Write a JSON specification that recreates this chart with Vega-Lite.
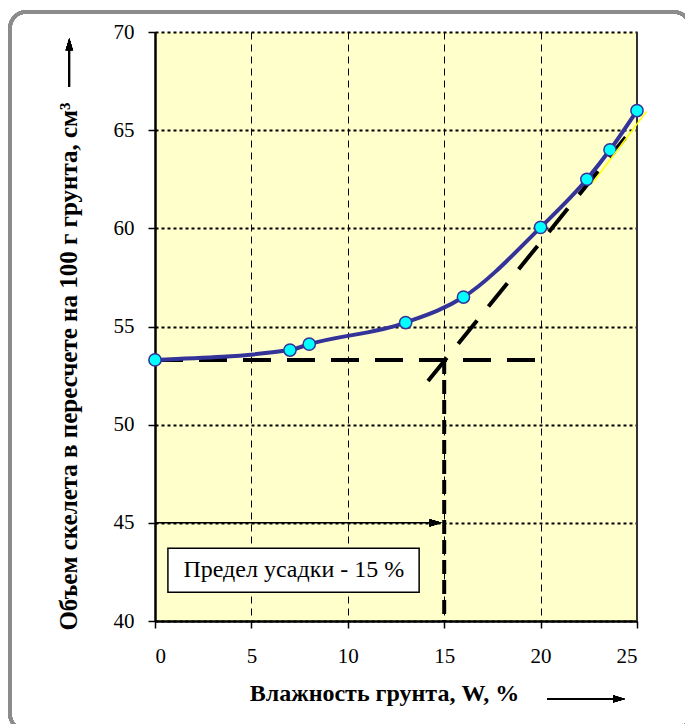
{
  "$schema": "https://vega.github.io/schema/vega-lite/v6.json",
  "width": 482,
  "height": 589,
  "autosize": {"type": "none"},
  "padding": {"left": 155, "top": 32, "right": 48, "bottom": 103},
  "background": "white",
  "config": {
    "view": {"fill": "#FFFFCC", "stroke": null},
    "font": "Liberation Serif"
  },
  "datasets": {
    "curve": [
      {"W": 0, "V": 53.3},
      {"W": 7, "V": 53.8},
      {"W": 8, "V": 54.1},
      {"W": 13, "V": 55.2},
      {"W": 16, "V": 56.5},
      {"W": 20, "V": 60.05},
      {"W": 22.4, "V": 62.5},
      {"W": 23.6, "V": 64.0},
      {"W": 25, "V": 66.0}
    ],
    "horiz": [{"W": 0, "V": 53.3}, {"W": 20, "V": 53.3}],
    "vert": [{"W": 15, "V": 53.3}, {"W": 15, "V": 40}],
    "tangent": [{"W": 14.16, "V": 52.22}, {"W": 24.41, "V": 64.64}],
    "arrow45": [{"W": 0, "V": 45}, {"W": 14.4, "V": 45}],
    "yellow": [{"W": 22.71, "V": 62.33}, {"W": 25.49, "V": 65.95}],
    "note": [{"W": 7.2, "V": 42.6, "label": "Предел усадки - 15 %"}]
  },
  "encoding": {
    "x": {
      "field": "W", "type": "quantitative",
      "scale": {"domain": [0, 25], "nice": false, "zero": false},
      "axis": {
        "values": [0, 5, 10, 15, 20, 25],
        "grid": true, "gridColor": "#000", "gridDash": [7, 5], "gridWidth": 1,
        "domainColor": "#000", "domainWidth": 2.5,
        "tickColor": "#000", "tickSize": 7, "tickWidth": 1.5,
        "labelFont": "Liberation Serif", "labelFontSize": 21, "labelColor": "#000", "labelPadding": 17,
        "title": "Влажность грунта, W, %",
        "titleFont": "Liberation Serif", "titleFontSize": 24, "titleFontWeight": "bold", "titleColor": "#000",
        "titleX": 229, "titleY": 79, "titleBaseline": "alphabetic", "titleAlign": "center"
      }
    },
    "y": {
      "field": "V", "type": "quantitative",
      "scale": {"domain": [40, 70], "nice": false, "zero": false},
      "axis": {
        "values": [40, 45, 50, 55, 60, 65, 70],
        "grid": true, "gridColor": "#000", "gridDash": [3, 3], "gridWidth": 2,
        "domainColor": "#000", "domainWidth": 2.5,
        "tickColor": "#000", "tickSize": 7, "tickWidth": 1.5,
        "labelFont": "Liberation Serif", "labelFontSize": 21, "labelColor": "#000", "labelPadding": 14,
        "title": "Объем скелета в пересчете на 100 г грунта, см³",
        "titleFont": "Liberation Serif", "titleFontSize": 25, "titleFontWeight": "bold", "titleColor": "#000",
        "titleX": -79, "titleY": 334, "titleAngle": -90, "titleBaseline": "alphabetic", "titleAlign": "center"
      }
    }
  },
  "layer": [
    {
      "data": {"name": "curve"},
      "mark": {"type": "rule", "color": "#333333", "strokeWidth": 1.5},
      "encoding": {
        "x": {"datum": 25}, "y": {"datum": 40}, "y2": {"datum": 70}
      }
    },
    {
      "data": {"name": "curve"},
      "mark": {"type": "rect", "fill": null, "filled": false, "stroke": "#8c8c8c", "strokeWidth": 3.5, "cornerRadius": 16},
      "encoding": {
        "x": {"datum": -7.52}, "x2": {"datum": 27.75},
        "y": {"datum": 71.02}, "y2": {"datum": 34.44}
      }
    },
    {
      "data": {"name": "arrow45"},
      "mark": {"type": "line", "color": "#000", "strokeWidth": 1.5},
      "encoding": {}
    },
    {
      "data": {"name": "curve"},
      "mark": {"type": "point", "shape": "M-1,-0.3L0,0L-1,0.3Z", "size": 576, "filled": true, "color": "#000", "opacity": 1},
      "encoding": {"x": {"datum": 14.87}, "y": {"datum": 45}}
    },
    {
      "data": {"name": "horiz"},
      "mark": {"type": "line", "color": "#000", "strokeWidth": 4, "strokeDash": [28, 16]},
      "encoding": {}
    },
    {
      "data": {"name": "vert"},
      "mark": {"type": "line", "color": "#000", "strokeWidth": 4, "strokeDash": [14, 6]},
      "encoding": {"order": {"field": "V", "sort": "descending"}}
    },
    {
      "data": {"name": "tangent"},
      "mark": {"type": "line", "color": "#000", "strokeWidth": 4, "strokeDash": [30, 18]},
      "encoding": {}
    },
    {
      "data": {"name": "curve"},
      "mark": {"type": "line", "color": "#333399", "strokeWidth": 4, "interpolate": "monotone"},
      "encoding": {}
    },
    {
      "data": {"name": "curve"},
      "mark": {"type": "point", "shape": "circle", "size": 150, "filled": true, "fill": "#00FFFF", "stroke": "#333399", "strokeWidth": 1.5, "opacity": 1},
      "encoding": {}
    },
    {
      "data": {"name": "yellow"},
      "mark": {"type": "line", "color": "#FFFF00", "strokeWidth": 1.5},
      "encoding": {}
    },
    {
      "data": {"name": "note"},
      "mark": {"type": "rect", "fill": "white", "stroke": "#000", "strokeWidth": 1.5},
      "encoding": {
        "x": {"datum": 0.67}, "x2": {"datum": 13.7},
        "y": {"datum": 43.71}, "y2": {"datum": 41.47}
      }
    },
    {
      "data": {"name": "note"},
      "mark": {"type": "text", "font": "Liberation Serif", "fontSize": 24, "color": "#000", "align": "center", "baseline": "middle"},
      "encoding": {"text": {"field": "label"}}
    },
    {
      "data": {"name": "curve"},
      "mark": {"type": "rule", "color": "#000", "strokeWidth": 1.5},
      "encoding": {"x": {"datum": 20.33}, "x2": {"datum": 23.8}, "y": {"datum": 36.03}}
    },
    {
      "data": {"name": "curve"},
      "mark": {"type": "point", "shape": "M-1,-0.3L0,0L-1,0.3Z", "size": 576, "filled": true, "color": "#000", "opacity": 1},
      "encoding": {"x": {"datum": 24.38}, "y": {"datum": 36.03}}
    },
    {
      "data": {"name": "curve"},
      "mark": {"type": "rule", "color": "#000", "strokeWidth": 1.5},
      "encoding": {"x": {"datum": -4.445}, "y": {"datum": 67.21}, "y2": {"datum": 69.2}}
    },
    {
      "data": {"name": "curve"},
      "mark": {"type": "point", "shape": "M-0.3,1L0,0L0.3,1Z", "size": 576, "filled": true, "color": "#000", "opacity": 1},
      "encoding": {"x": {"datum": -4.445}, "y": {"datum": 69.68}}
    }
  ]
}
